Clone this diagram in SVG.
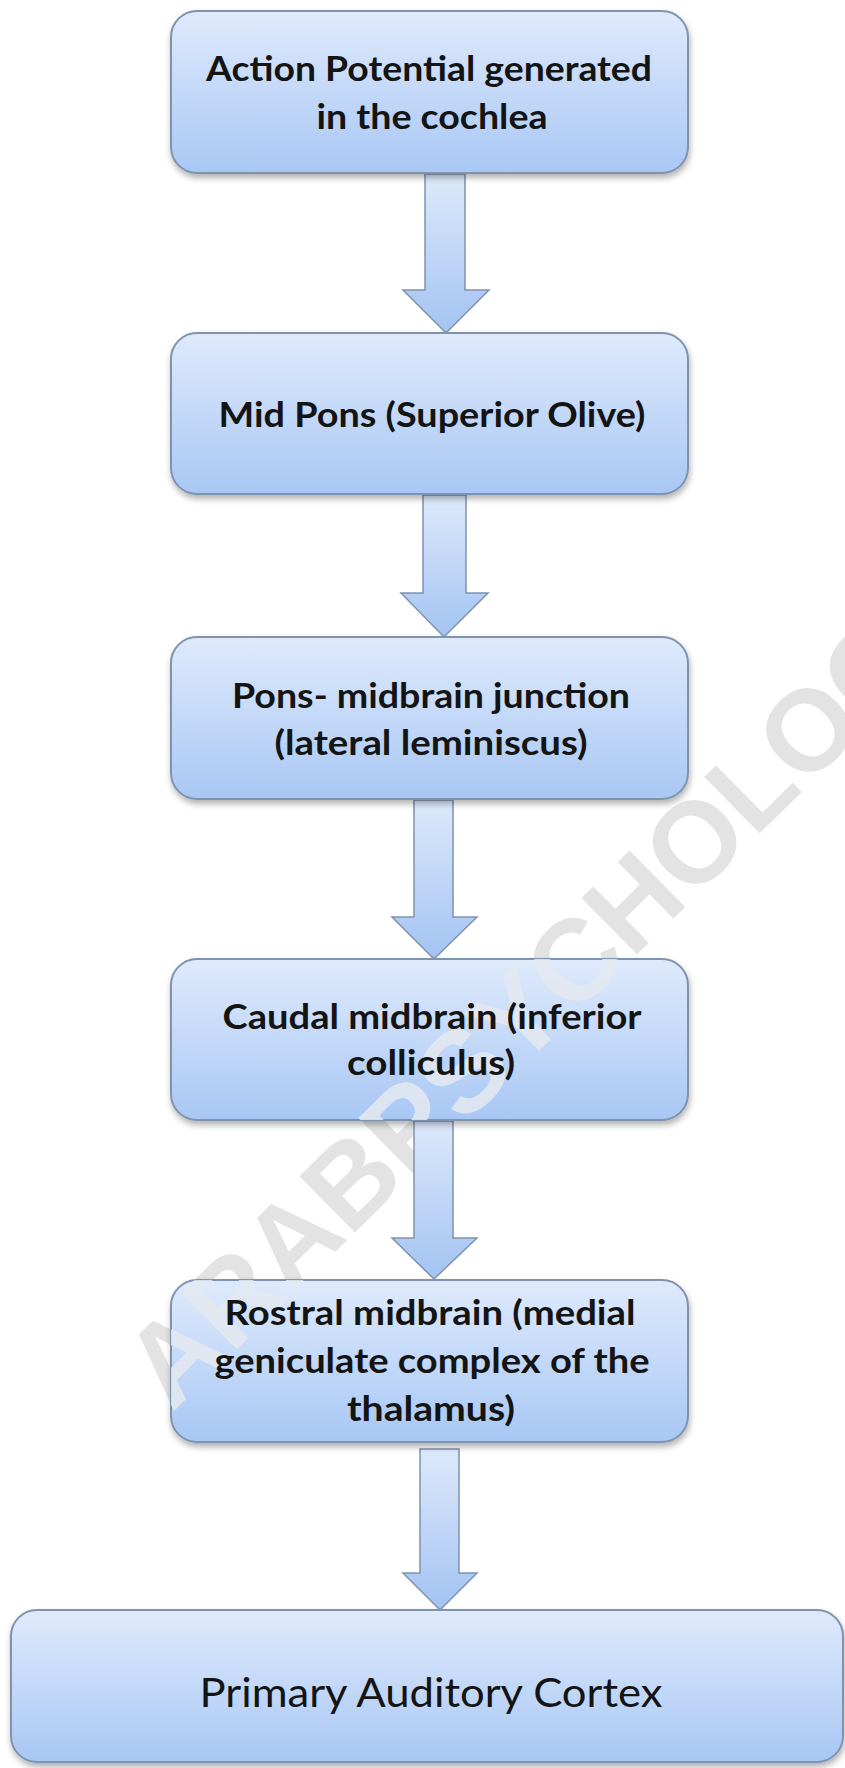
<svg xmlns="http://www.w3.org/2000/svg" width="845" height="1768" viewBox="0 0 845 1768">
<defs>
<linearGradient id="bg" x1="0" y1="0" x2="0" y2="1">
<stop offset="0" stop-color="#dfeafc"/>
<stop offset="1" stop-color="#a8c7f4"/>
</linearGradient>
<linearGradient id="ag" x1="0" y1="0" x2="0" y2="1">
<stop offset="0" stop-color="#dde9fb"/>
<stop offset="1" stop-color="#a3c3f2"/>
</linearGradient>
<filter id="sh" x="-10%" y="-10%" width="120%" height="130%">
<feDropShadow dx="1" dy="4" stdDeviation="3" flood-color="#000" flood-opacity="0.3"/>
</filter>
<text id="wm" x="0" y="0" transform="translate(172,1413) rotate(-44.6)" font-family="'Liberation Sans',Arial,sans-serif" font-weight="bold" font-size="115">ARABPSYCHOLOGY</text>
<clipPath id="c3"><rect x="171" y="637" width="517" height="162" rx="26"/></clipPath>
<clipPath id="c4"><rect x="171" y="959" width="517" height="161" rx="26"/></clipPath>
<clipPath id="c5"><rect x="171" y="1280" width="517" height="162" rx="26"/></clipPath>
</defs>
<style>
.box{fill:url(#bg);stroke:#7f93ad;stroke-width:2;filter:url(#sh)}
.arr{fill:url(#ag);stroke:#7f93ad;stroke-width:1.5;stroke-linejoin:miter}
.t{font-family:Lato,"Open Sans","Liberation Sans",sans-serif;font-weight:bold;font-size:35px;fill:#141414;text-anchor:middle}
.tb{font-family:Lato,"Open Sans","Liberation Sans",sans-serif;font-size:40px;fill:#141414;text-anchor:middle}
.wmb{fill:#e3e3e3}
.wmo{fill:#e4e9f0;fill-opacity:0.85}
</style>
<rect width="845" height="1768" fill="#ffffff"/>
<g id="watermark"><use href="#wm" class="wmb"/></g>
<g id="connectors">
<path class="arr" d="M425,174 H465 V290 H489 L446,333 L403,290 H425 Z"/>
<path class="arr" d="M423,495 H466 V593 H488 L444,637 L401,593 H423 Z"/>
<path class="arr" d="M414,800 H453 V917 H477 L434,959 L392,917 H414 Z"/>
<path class="arr" d="M414,1121 H453 V1238 H477 L434,1279 L392,1238 H414 Z"/>
<path class="arr" d="M420,1449 H459 V1573 H477 L440,1610 L403,1573 H420 Z"/>
</g>
<g id="node1">
<rect class="box" x="171" y="11" width="517" height="162" rx="26"/>
<text class="t" x="429" y="81" textLength="446" lengthAdjust="spacingAndGlyphs">Action Potential generated</text>
<text class="t" x="432" y="129" textLength="231" lengthAdjust="spacingAndGlyphs">in the cochlea</text>
</g>
<g id="node2">
<rect class="box" x="171" y="333" width="517" height="161" rx="26"/>
<text class="t" x="432" y="427" textLength="427" lengthAdjust="spacingAndGlyphs">Mid Pons (Superior Olive)</text>
</g>
<g id="node3">
<rect class="box" x="171" y="637" width="517" height="162" rx="26"/>
<use href="#wm" class="wmo" clip-path="url(#c3)"/>
<text class="t" x="431" y="708" textLength="398" lengthAdjust="spacingAndGlyphs">Pons- midbrain junction</text>
<text class="t" x="431" y="755" textLength="313" lengthAdjust="spacingAndGlyphs">(lateral leminiscus)</text>
</g>
<g id="node4">
<rect class="box" x="171" y="959" width="517" height="161" rx="26"/>
<use href="#wm" class="wmo" clip-path="url(#c4)"/>
<text class="t" x="432" y="1029" textLength="419" lengthAdjust="spacingAndGlyphs">Caudal midbrain (inferior</text>
<text class="t" x="431" y="1075" textLength="168" lengthAdjust="spacingAndGlyphs">colliculus)</text>
</g>
<g id="node5">
<rect class="box" x="171" y="1280" width="517" height="162" rx="26"/>
<use href="#wm" class="wmo" clip-path="url(#c5)"/>
<text class="t" x="430" y="1325" textLength="411" lengthAdjust="spacingAndGlyphs">Rostral midbrain (medial</text>
<text class="t" x="432" y="1373" textLength="435" lengthAdjust="spacingAndGlyphs">geniculate complex of the</text>
<text class="t" x="431" y="1421" textLength="168" lengthAdjust="spacingAndGlyphs">thalamus)</text>
</g>
<g id="node6">
<rect class="box" x="11" y="1610" width="832" height="152" rx="26"/>
<text class="tb" x="431" y="1707" textLength="463" lengthAdjust="spacingAndGlyphs">Primary Auditory Cortex</text>
</g>
</svg>
